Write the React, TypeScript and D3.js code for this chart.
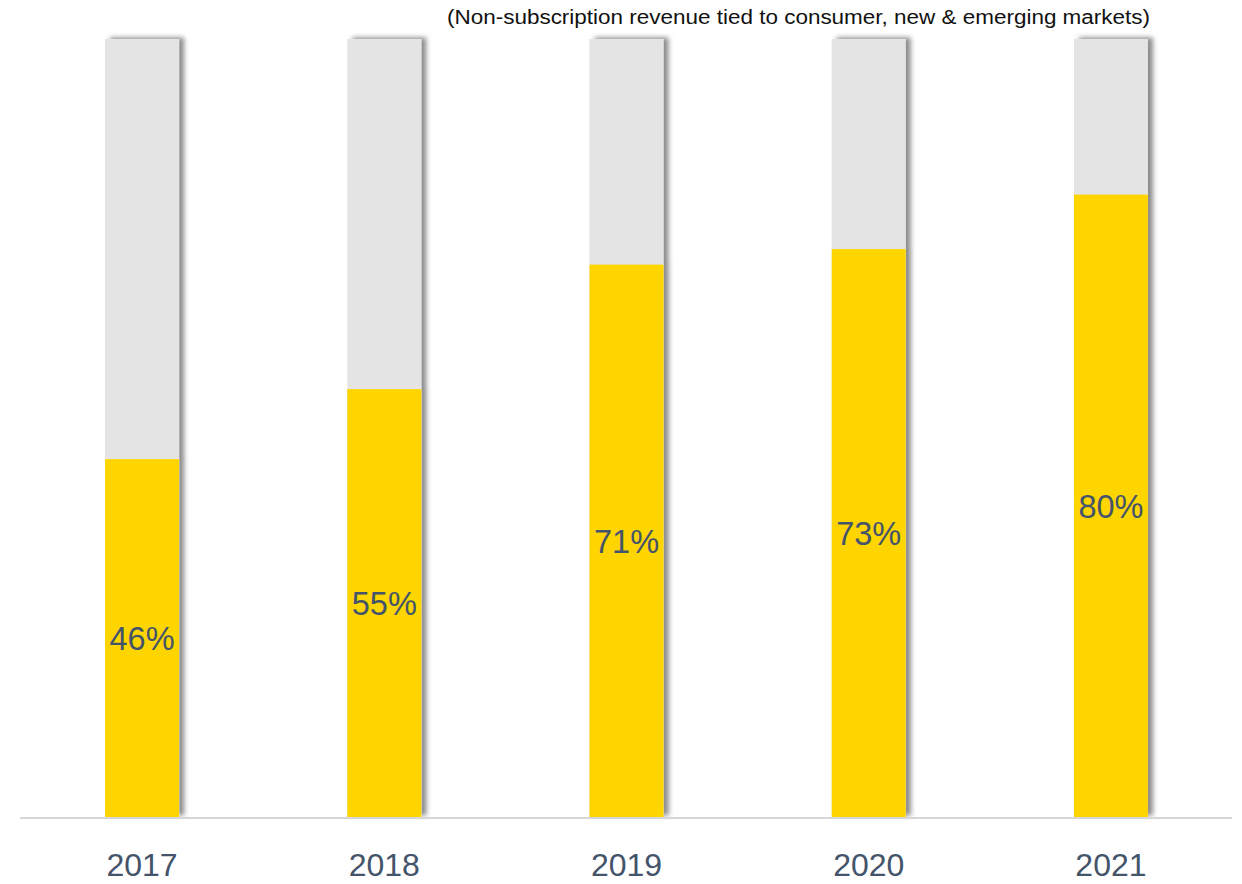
import React from "react";
import * as d3 from "d3";

const years = ["2017", "2018", "2019", "2020", "2021"];
const shareValues = [46, 55, 71, 73, 80];
const totalValues = [100, 100, 100, 100, 100];
const subtitle = "(Non-subscription revenue tied to consumer, new & emerging markets)";

const W = 1242;
const H = 884;

export default function App() {
  const x = d3.scaleBand<string>().domain(years).range([21, 1232]).paddingInner(0.6945).paddingOuter(0.347);
  const y = d3.scaleLinear().domain([0, 100]).range([817, 39]);
  const labelColor = "#44546A";

  return (
    <svg width={W} height={H} style={{ position: "absolute", left: 0, top: 0, background: "#fff" }}>
      <defs>
        <filter id="shadow" x="-20%" y="-5%" width="150%" height="110%">
          <feDropShadow dx="5" dy="-1.5" stdDeviation="2.6" floodColor="#000" floodOpacity="0.45" />
        </filter>
      </defs>
      <text
        x={1150}
        y={24}
        textAnchor="end"
        fontFamily="'Liberation Sans', Arial, sans-serif"
        fontSize={19.5}
        fill="#111"
        textLength={703}
        lengthAdjust="spacingAndGlyphs"
      >
        {subtitle}
      </text>
      {years.map((yr, i) => {
        const x0 = x(yr)!;
        const bw = x.bandwidth();
        return (
          <g key={yr} filter="url(#shadow)">
            <rect x={x0} y={y(totalValues[i])} width={bw} height={y(0) - y(totalValues[i])} fill="#E4E4E4" />
            <rect x={x0} y={y(shareValues[i])} width={bw} height={y(0) - y(shareValues[i])} fill="#FFD500" />
          </g>
        );
      })}
      {years.map((yr, i) => (
        <text
          key={"l" + yr}
          x={x(yr)! + x.bandwidth() / 2}
          y={(y(shareValues[i]) + y(0)) / 2}
          dy="0.36em"
          textAnchor="middle"
          fontFamily="'Liberation Sans', Arial, sans-serif"
          fontSize={32.5}
          fill={labelColor}
        >
          {shareValues[i]}%
        </text>
      ))}
      <line x1={20} x2={1232} y1={818} y2={818} stroke="#D6D6D6" strokeWidth={2} />
      {years.map((yr) => (
        <text
          key={"x" + yr}
          x={x(yr)! + x.bandwidth() / 2}
          y={876}
          textAnchor="middle"
          fontFamily="'Liberation Sans', Arial, sans-serif"
          fontSize={32}
          fill={labelColor}
        >
          {yr}
        </text>
      ))}
    </svg>
  );
}
